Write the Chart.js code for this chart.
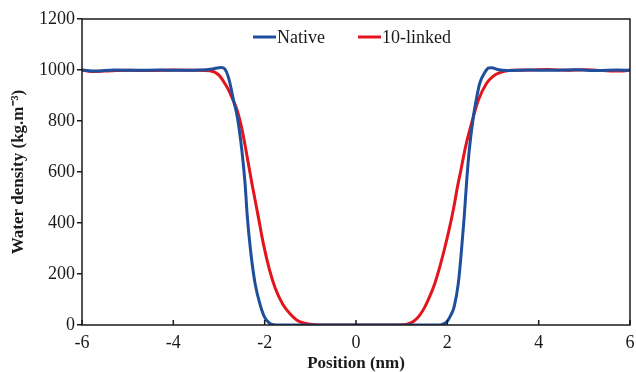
<!DOCTYPE html>
<html>
<head>
<meta charset="utf-8">
<script src="https://cdn.jsdelivr.net/npm/chart.js@4.4.1/dist/chart.umd.min.js"></script>
<style>
  html, body { margin: 0; padding: 0; background: #fff; }
  #wrap { width: 636px; height: 372px; }
</style>
</head>
<body>
<div id="wrap"><canvas id="chart" width="636" height="372"></canvas></div>
<script>
// Water density profiles
const nativeX = [-6, -5.7, -5.3, -4.8, -4.3, -3.8, -3.4, -3.15, -2.95, -2.87, -2.8, -2.76, -2.68, -2.6, -2.5, -2.43, -2.38, -2.31, -2.21, -2.1, -2, -1.9, -1.8, -1.7, -1, 0, 1, 1.84, 1.92, 1.99, 2.08, 2.15, 2.24, 2.31, 2.37, 2.42, 2.48, 2.57, 2.64, 2.71, 2.82, 2.9, 2.97, 3.1, 3.3, 3.8, 4.3, 4.8, 5.3, 5.7, 6];
const nativeY = [1000, 996, 1000, 999, 1000, 999, 1000, 1004, 1010, 1003, 975, 948, 880, 817, 686, 556, 425, 294, 163, 80, 30, 8, 1, 0, 0, 0, 0, 0, 5, 13, 40, 72, 163, 294, 425, 556, 686, 817, 890, 948, 990, 1008, 1009, 1002, 998, 1000, 999, 1001, 998, 1000, 999];

const linkedX = [-6, -5.8, -5.5, -5, -4.5, -4, -3.5, -3.2, -3, -2.9, -2.8, -2.7, -2.6, -2.5, -2.41, -2.28, -2.14, -2.03, -1.9, -1.77, -1.6, -1.45, -1.3, -1.15, -1, -0.8, 0, 0.9, 1.1, 1.2, 1.3, 1.4, 1.5, 1.61, 1.72, 1.83, 1.94, 2.04, 2.14, 2.22, 2.3, 2.4, 2.57, 2.68, 2.86, 3, 3.15, 3.4, 3.8, 4.2, 4.6, 5, 5.4, 5.8, 6];
const linkedY = [1000, 994, 996, 999, 998, 1000, 999, 997, 980, 955, 925, 885, 840, 770, 686, 556, 425, 320, 220, 145, 80, 45, 20, 8, 3, 0, 0, 0, 2, 8, 20, 40, 68, 110, 160, 225, 300, 375, 460, 540, 610, 700, 817, 882, 948, 975, 990, 999, 1000, 1002, 999, 1001, 998, 996, 1000];

const xTicks = [-6, -4, -2, 0, 2, 4, 6];
const yTicks = [0, 200, 400, 600, 800, 1000, 1200];

const serif = "'Liberation Serif', 'Times New Roman', serif";
const ink = '#1a1a1a';

function toPoints(xs, ys) {
    return xs.map((x, i) => ({ x: x, y: ys[i] }));
}

// frame, inward x ticks and legend
const decor = {
    id: 'decor',
    afterDraw(chart) {
        const ctx = chart.ctx;
        const a = chart.chartArea;
        const xs = chart.scales.x;
        ctx.save();
        ctx.strokeStyle = ink;
        ctx.lineWidth = 1.5;
        ctx.strokeRect(a.left, a.top, a.right - a.left, a.bottom - a.top);
        xs.ticks.forEach(t => {
            const px = xs.getPixelForValue(t.value);
            ctx.beginPath();
            ctx.moveTo(px, a.bottom);
            ctx.lineTo(px, a.bottom - 5);
            ctx.stroke();
        });

        // legend
        const items = [
            { ds: chart.data.datasets[0], x: 253 },
            { ds: chart.data.datasets[1], x: 358 }
        ];
        ctx.font = '18px ' + serif;
        ctx.textBaseline = 'middle';
        ctx.fillStyle = ink;
        items.forEach(it => {
            ctx.strokeStyle = it.ds.borderColor;
            ctx.lineWidth = 3;
            ctx.beginPath();
            ctx.moveTo(it.x, 37);
            ctx.lineTo(it.x + 23, 37);
            ctx.stroke();
            ctx.fillText(it.ds.label, it.x + 24, 38);
        });
        ctx.restore();
    }
};

new Chart(document.getElementById('chart'), {
    type: 'line',
    data: {
        datasets: [
            {
                label: 'Native',
                data: toPoints(nativeX, nativeY),
                borderColor: '#1f4f9c',
                borderWidth: 3,
                pointRadius: 0,
                cubicInterpolationMode: 'monotone',
                fill: false
            },
            {
                label: '10-linked',
                data: toPoints(linkedX, linkedY),
                borderColor: '#e3141c',
                borderWidth: 3,
                pointRadius: 0,
                cubicInterpolationMode: 'monotone',
                fill: false
            }
        ]
    },
    options: {
        responsive: false,
        animation: false,
        layout: { padding: { top: 19, right: 6, left: 0, bottom: 0 } },
        plugins: {
            legend: { display: false },
            tooltip: { enabled: false }
        },
        scales: {
            x: {
                type: 'linear',
                min: -6, max: 6,
                afterBuildTicks: s => { s.ticks = xTicks.map(v => ({ value: v })); },
                afterFit: s => { s.height = 47; s.paddingLeft = 0; s.paddingRight = 0; },
                grid: { display: false, drawTicks: false },
                border: { display: false },
                ticks: {
                    padding: 7,
                    color: ink,
                    font: { family: serif, size: 18 },
                    callback: v => String(v)
                },
                title: {
                    display: true,
                    text: 'Position (nm)',
                    color: ink,
                    font: { family: serif, size: 17, weight: 'bold' },
                    padding: { top: 0, bottom: -2 }
                }
            },
            y: {
                min: 0, max: 1200,
                afterBuildTicks: s => { s.ticks = yTicks.map(v => ({ value: v })); },
                afterFit: s => { s.width = 82; s.paddingTop = 0; s.paddingBottom = 0; },
                grid: {
                    drawOnChartArea: false,
                    drawTicks: true,
                    tickLength: 5,
                    color: ink,
                    lineWidth: 1.5
                },
                border: { display: false },
                ticks: {
                    padding: 2,
                    color: ink,
                    font: { family: serif, size: 18 },
                    callback: v => String(v)
                },
                title: {
                    display: true,
                    text: 'Water density (kg.m\u207B\u00B3)',
                    color: ink,
                    font: { family: serif, size: 17, weight: 'bold' },
                    padding: { top: 8, bottom: 0 }
                }
            }
        }
    },
    plugins: [decor]
});
</script>
</body>
</html>
